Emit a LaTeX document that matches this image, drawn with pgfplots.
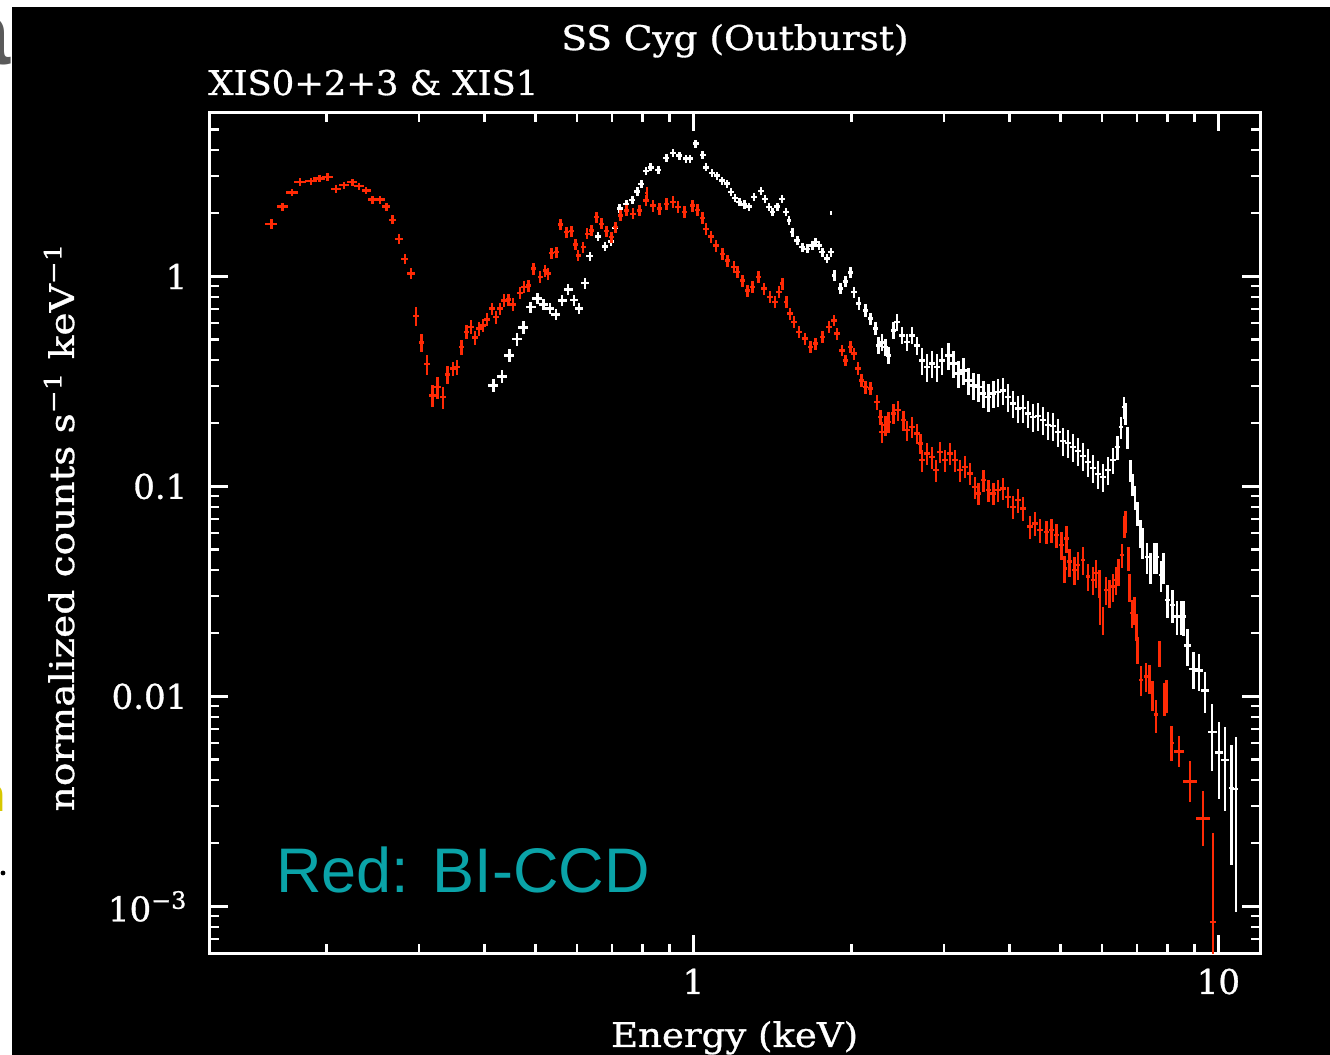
\documentclass[border=0pt]{standalone}
\usepackage{pgfplots}
\usepackage{pgfplotstable}
\pgfplotsset{compat=1.18}
\usepackage{graphicx}
\usepackage{fontspec}
\setmainfont{DejaVu Serif}
\newfontfamily\pgfnt{DejaVu Serif}[FakeBold=0.9]
\setsansfont{Liberation Sans}
\definecolor{bired}{RGB}{255,42,5}
\definecolor{tealtxt}{RGB}{10,163,168}
\newcommand{\pf}{\pgfnt\fontsize{17}{20}\selectfont}

% XIS1 (BI-CCD): E  counts  rel.xerr  rel.yerr
\pgfplotstableread{
0.157 1.78 0.026 0.05
0.165 2.15 0.026 0.045
0.172 2.51 0.026 0.04
0.178 2.82 0.026 0.04
0.187 2.84 0.026 0.04
0.194 2.92 0.026 0.04
0.201 2.98 0.026 0.04
0.2087 2.61 0.022 0.04
0.216 2.72 0.022 0.04
0.224 2.81 0.022 0.04
0.2307 2.69 0.02 0.04
0.238 2.56 0.02 0.04
0.2445 2.32 0.02 0.045
0.253 2.32 0.02 0.045
0.260 2.15 0.018 0.045
0.2673 1.86 0.016 0.05
0.2748 1.51 0.016 0.05
0.282 1.21 0.016 0.055
0.2897 1.03 0.016 0.06
0.2965 0.647 0.012 0.1
0.3034 0.484 0.012 0.1
0.311 0.382 0.012 0.11
0.3186 0.2717 0.014 0.12
0.3253 0.2975 0.014 0.12
0.3335 0.2667 0.012 0.12
0.340 0.342 0.012 0.1
0.3483 0.364 0.012 0.08
0.3545 0.370 0.012 0.08
0.3613 0.461 0.012 0.08
0.3693 0.5435 0.012 0.075
0.377 0.574 0.012 0.075
0.384 0.511 0.012 0.075
0.3908 0.564 0.012 0.075
0.3978 0.585 0.012 0.075
0.4043 0.6245 0.012 0.075
0.413 0.702 0.012 0.07
0.421 0.640 0.012 0.07
0.4284 0.702 0.012 0.07
0.436 0.769 0.012 0.07
0.4443 0.775 0.012 0.07
0.4529 0.736 0.012 0.07
0.4675 0.833 0.012 0.065
0.4758 0.889 0.012 0.065
0.4849 0.906 0.012 0.065
0.4955 1.088 0.012 0.065
0.5103 0.992 0.011 0.065
0.5216 1.068 0.011 0.065
0.529 1.03 0.011 0.065
0.537 1.29 0.011 0.06
0.5487 1.305 0.011 0.06
0.5585 1.767 0.011 0.06
0.5734 1.624 0.011 0.06
0.586 1.643 0.011 0.06
0.5963 1.42 0.011 0.06
0.6033 1.259 0.011 0.06
0.6166 1.378 0.011 0.06
0.6275 1.596 0.011 0.06
0.6395 1.654 0.011 0.06
0.6535 1.914 0.011 0.06
0.668 1.781 0.011 0.06
0.6826 1.643 0.011 0.06
0.698 1.538 0.011 0.06
0.711 1.716 0.011 0.06
0.726 1.95 0.012 0.06
0.7452 2.06 0.012 0.06
0.767 1.987 0.012 0.06
0.79 2.06 0.012 0.06
0.813 2.298 0.012 0.06
0.815 2.49 0.006 0.065
0.837 2.176 0.012 0.065
0.862 2.10 0.012 0.065
0.888 2.217 0.012 0.065
0.9135 2.256 0.012 0.065
0.934 2.136 0.012 0.065
0.961 2.022 0.012 0.065
0.997 2.176 0.012 0.065
1.019 2.075 0.012 0.065
1.041 1.901 0.012 0.065
1.057 1.686 0.012 0.065
1.08 1.55 0.012 0.065
1.104 1.404 0.012 0.065
1.137 1.282 0.012 0.065
1.162 1.192 0.012 0.065
1.196 1.107 0.012 0.065
1.2137 1.048 0.012 0.065
1.2406 0.957 0.012 0.065
1.268 0.858 0.012 0.065
1.296 0.889 0.012 0.065
1.33 0.992 0.012 0.065
1.3635 0.874 0.012 0.065
1.398 0.797 0.012 0.065
1.431 0.755 0.012 0.065
1.456 0.842 0.012 0.065
1.477 0.923 0.009 0.065
1.503 0.755 0.009 0.065
1.526 0.665 0.012 0.065
1.555 0.606 0.012 0.065
1.589 0.5435 0.012 0.065
1.631 0.5056 0.012 0.065
1.672 0.461 0.012 0.065
1.709 0.4786 0.012 0.065
1.76 0.5145 0.012 0.065
1.811 0.574 0.012 0.065
1.852 0.6177 0.012 0.065
1.878 0.534 0.012 0.065
1.92 0.4446 0.012 0.065
1.949 0.3987 0.012 0.065
1.992 0.461 0.012 0.065
2.021 0.429 0.012 0.065
2.059 0.364 0.012 0.07
2.09 0.32 0.012 0.07
2.127 0.2976 0.012 0.07
2.174 0.2924 0.012 0.07
2.237 0.2525 0.012 0.08
2.271 0.2143 0.012 0.08
2.287 0.1818 0.012 0.11
2.321 0.1956 0.012 0.11
2.355 0.2028 0.012 0.11
2.407 0.2224 0.012 0.11
2.453 0.2306 0.012 0.11
2.514 0.2066 0.012 0.11
2.551 0.1852 0.012 0.11
2.607 0.1920 0.012 0.11
2.665 0.1786 0.012 0.11
2.705 0.1601 0.012 0.11
2.724 0.1334 0.012 0.12
2.784 0.1435 0.012 0.12
2.846 0.1382 0.012 0.12
2.896 0.1195 0.012 0.12
2.951 0.1461 0.012 0.12
3.016 0.1334 0.012 0.12
3.083 0.1435 0.012 0.12
3.151 0.1334 0.012 0.12
3.221 0.1195 0.012 0.12
3.292 0.124 0.012 0.12
3.365 0.1153 0.012 0.12
3.439 0.0995 0.012 0.12
3.489 0.0926 0.012 0.12
3.566 0.1072 0.012 0.12
3.645 0.096 0.012 0.12
3.725 0.0926 0.012 0.12
3.807 0.096 0.012 0.12
3.892 0.0978 0.012 0.12
3.978 0.0892 0.012 0.12
4.066 0.080 0.012 0.13
4.155 0.0861 0.012 0.13
4.247 0.0786 0.012 0.13
4.373 0.0643 0.012 0.13
4.470 0.0667 0.012 0.13
4.569 0.0620 0.012 0.13
4.702 0.0608 0.012 0.13
4.806 0.0620 0.012 0.13
4.912 0.0587 0.012 0.13
5.021 0.0526 0.01 0.15
5.095 0.0407 0.008 0.15
5.131 0.0566 0.01 0.15
5.208 0.0438 0.01 0.15
5.323 0.040 0.01 0.15
5.400 0.0423 0.01 0.15
5.520 0.0446 0.01 0.15
5.641 0.0372 0.01 0.15
5.766 0.0358 0.01 0.15
5.850 0.0386 0.01 0.15
5.937 0.0346 0.008 0.15
5.95 0.0258 0.005 0.15
6.024 0.0231 0.005 0.15
6.112 0.0321 0.008 0.15
6.203 0.031 0.008 0.15
6.294 0.0333 0.008 0.15
6.385 0.0358 0.008 0.15
6.453 0.0393 0.008 0.15
6.546 0.0471 0.008 0.13
6.625 0.0643 0.006 0.12
6.653 0.0679 0.006 0.12
6.741 0.0455 0.005 0.13
6.770 0.0333 0.005 0.15
6.838 0.0249 0.007 0.15
6.918 0.0258 0.007 0.15
6.98 0.0215 0.007 0.15
7.019 0.0167 0.007 0.15
7.121 0.012 0.007 0.16
7.278 0.01244 0.008 0.16
7.387 0.01222 0.007 0.16
7.495 0.01018 0.007 0.16
7.603 0.00818 0.007 0.18
7.718 0.01606 0.005 0.14
7.888 0.00982 0.008 0.18
7.966 0.01018 0.008 0.18
}\redA

% XIS1 high-energy bins: E counts rel.xerr rel.yerr+ rel.yerr-
\pgfplotstableread{
8.142 0.0060 0.009 0.2 0.18
8.421 0.00547 0.022 0.18 0.16
8.823 0.00394 0.03 0.25 0.2
9.354 0.00262 0.032 0.35 0.26
9.755 0.000841 0.013 1.65 0.99
}\redB

% XIS0+2+3 (FI-CCD)
\pgfplotstableread{
0.416 0.303 0.022 0.07
0.4315 0.3334 0.022 0.07
0.4462 0.421 0.022 0.07
0.4608 0.5028 0.022 0.07
0.4744 0.5721 0.022 0.07
0.4899 0.7145 0.022 0.06
0.5043 0.7834 0.022 0.06
0.518 0.736 0.02 0.06
0.533 0.702 0.02 0.06
0.547 0.6596 0.02 0.06
0.5625 0.766 0.02 0.06
0.5775 0.8645 0.02 0.06
0.5921 0.772 0.018 0.06
0.6059 0.702 0.018 0.06
0.6211 0.929 0.018 0.06
0.635 1.248 0.016 0.05
0.658 1.55 0.013 0.045
0.6787 1.389 0.013 0.045
0.6967 1.467 0.013 0.045
0.7096 1.704 0.013 0.045
0.7239 2.11 0.013 0.045
0.7452 2.207 0.013 0.045
0.765 2.306 0.013 0.045
0.782 2.542 0.013 0.045
0.796 2.76 0.013 0.045
0.812 3.181 0.013 0.045
0.8287 3.31 0.013 0.045
0.8574 3.216 0.013 0.045
0.888 3.668 0.013 0.045
0.9135 3.879 0.013 0.045
0.9406 3.762 0.013 0.045
0.9686 3.64 0.013 0.045
0.9856 3.64 0.013 0.045
1.0101 4.29 0.013 0.045
1.041 3.782 0.013 0.045
1.057 3.31 0.013 0.045
1.084 3.116 0.013 0.045
1.108 3.022 0.013 0.045
1.133 2.861 0.013 0.045
1.158 2.768 0.013 0.045
1.179 2.517 0.013 0.045
1.199 2.362 0.013 0.045
1.2226 2.256 0.013 0.045
1.25 2.2 0.013 0.045
1.277 2.152 0.013 0.045
1.305 2.383 0.013 0.045
1.345 2.545 0.013 0.045
1.3694 2.342 0.013 0.045
1.394 2.136 0.013 0.045
1.4147 2.022 0.013 0.045
1.4454 2.152 0.013 0.045
1.4733 2.342 0.013 0.045
1.4993 2.022 0.013 0.045
1.521 1.846 0.009 0.05
1.5432 1.624 0.009 0.05
1.5774 1.483 0.013 0.05
1.6124 1.378 0.013 0.05
1.648 1.354 0.013 0.05
1.6846 1.404 0.013 0.05
1.709 1.456 0.013 0.05
1.734 1.404 0.013 0.05
1.76 1.305 0.013 0.05
1.798 1.214 0.013 0.05
1.830 1.305 0.013 0.05
1.830 2.0 0.003 0.02
1.856 1.011 0.009 0.06
1.906 0.877 0.012 0.06
1.949 0.947 0.012 0.06
1.992 1.045 0.012 0.06
2.021 0.842 0.012 0.06
2.065 0.742 0.012 0.07
2.127 0.689 0.012 0.07
2.174 0.629 0.012 0.07
2.222 0.564 0.012 0.07
2.254 0.4696 0.012 0.09
2.287 0.4855 0.012 0.09
2.321 0.461 0.012 0.09
2.355 0.421 0.012 0.09
2.407 0.5536 0.012 0.09
2.442 0.6064 0.012 0.09
2.496 0.5241 0.012 0.09
2.551 0.487 0.012 0.09
2.607 0.5241 0.012 0.09
2.665 0.4696 0.012 0.1
2.724 0.3987 0.014 0.15
2.784 0.370 0.014 0.15
2.846 0.3845 0.014 0.15
2.909 0.370 0.014 0.15
2.973 0.3987 0.014 0.15
3.061 0.421 0.014 0.15
3.129 0.3845 0.014 0.15
3.197 0.3445 0.014 0.15
3.268 0.357 0.014 0.15
3.34 0.32 0.014 0.15
3.414 0.303 0.014 0.15
3.489 0.2976 0.014 0.15
3.566 0.2768 0.014 0.15
3.645 0.2668 0.014 0.15
3.725 0.2768 0.014 0.15
3.807 0.2817 0.014 0.15
3.892 0.2870 0.014 0.15
3.978 0.2668 0.014 0.15
4.066 0.248 0.014 0.15
4.155 0.2349 0.014 0.15
4.247 0.2357 0.014 0.15
4.341 0.2224 0.014 0.15
4.436 0.2143 0.014 0.15
4.534 0.2160 0.014 0.15
4.634 0.2066 0.014 0.15
4.736 0.1956 0.014 0.15
4.842 0.1935 0.014 0.15
4.949 0.1812 0.014 0.15
5.058 0.1642 0.014 0.15
5.17 0.1607 0.014 0.15
5.284 0.1538 0.014 0.15
5.4 0.1472 0.014 0.15
5.52 0.1393 0.014 0.15
5.641 0.1305 0.014 0.15
5.766 0.1222 0.014 0.15
5.893 0.1144 0.014 0.15
6.024 0.1107 0.014 0.15
6.156 0.1195 0.014 0.15
6.294 0.1334 0.014 0.14
6.418 0.1538 0.011 0.13
6.525 0.1914 0.007 0.12
6.602 0.2383 0.006 0.12
6.651 0.2232 0.006 0.12
6.718 0.1715 0.006 0.12
6.798 0.1195 0.006 0.12
6.867 0.1025 0.006 0.12
6.937 0.0889 0.006 0.13
7.019 0.0746 0.006 0.13
7.102 0.06 0.006 0.15
7.174 0.0543 0.006 0.17
7.311 0.0461 0.007 0.17
7.42 0.0413 0.007 0.17
7.551 0.0461 0.007 0.17
7.637 0.0461 0.007 0.17
7.772 0.0379 0.007 0.17
7.863 0.0413 0.007 0.17
8.002 0.0288 0.01 0.18
8.179 0.0273 0.01 0.18
8.334 0.024 0.012 0.18
8.481 0.024 0.01 0.18
8.581 0.024 0.01 0.19
8.733 0.01746 0.016 0.2
8.966 0.01353 0.018 0.2
9.191 0.01328 0.018 0.2
9.436 0.01067 0.018 0.22
}\whiteA

\pgfplotstableread{
9.730 0.00676 0.02 0.36 0.35
10.03 0.00541 0.018 0.39 0.40
10.30 0.00499 0.016 0.43 0.43
10.60 0.00366 0.012 0.6 0.57
10.79 0.00362 0.012 0.77 0.74
}\whiteB

\begin{document}
\begin{tikzpicture}
\useasboundingbox (0,0) rectangle (665pt,527.5pt);
\fill[white] (0,0) rectangle (665pt,527.5pt);
\fill[black] (6pt,0) rectangle (665pt,524pt);
\begin{scope}
\clip (0,0) rectangle (6pt,527.5pt);
\node[anchor=base east, inner sep=0, text={rgb,255:red,90;green,90;blue,90}, font=\sffamily\bfseries\fontsize{45}{45}\selectfont] at (5.5pt,495pt) {a};
\node[anchor=base east, inner sep=0, text={rgb,255:red,215;green,200;blue,0}, font=\sffamily\bfseries\fontsize{24}{24}\selectfont] at (3pt,121.5pt) {n};
\fill[black] (1.5pt,91pt) circle (1.2pt);
\end{scope}
\begin{axis}[
  at={(105pt,51pt)}, anchor=south west,
  scale only axis, width=525pt, height=420pt,
  xmode=log, ymode=log,
  xmin=0.12, xmax=12, ymin=6e-4, ymax=6,
  axis line style={white, line width=1.5pt},
  tick align=inside,
  every tick/.style={white, line width=1.2pt},
  major tick length=9pt, minor tick length=4.5pt,
  xtick={1,10}, xticklabels={1,10},
  minor xtick={0.2,0.3,0.4,0.5,0.6,0.7,0.8,0.9,2,3,4,5,6,7,8,9},
  ytick={0.001,0.01,0.1,1},
  yticklabels={10\textsuperscript{−3},0.01,0.1,1},
  minor ytick={0.0007,0.0008,0.0009,0.002,0.003,0.004,0.005,0.006,0.007,0.008,0.009,0.02,0.03,0.04,0.05,0.06,0.07,0.08,0.09,0.2,0.3,0.4,0.5,0.6,0.7,0.8,0.9,2,3,4,5},
  ticklabel style={font=\pf, text=white},
  yticklabel style={anchor=east, xshift=-7.8pt},
  xticklabel style={anchor=north, yshift=-4.3pt},
  clip=true,
]
\addplot[draw=none, mark=none, error bars/.cd, x dir=both, y dir=both,
  x explicit relative, y explicit relative, error mark=none,
  error bar style={draw=white, line width=1.25pt}]
  table[x index=0, y index=1, x error index=2, y error index=3] {\whiteA};
\addplot[draw=none, mark=none, error bars/.cd, x dir=both, y dir=both,
  x explicit relative, y explicit relative, error mark=none,
  error bar style={draw=white, line width=1.25pt}]
  table[x index=0, y index=1, x error index=2, y error plus index=3, y error minus index=4] {\whiteB};
\addplot[draw=none, mark=none, error bars/.cd, x dir=both, y dir=both,
  x explicit relative, y explicit relative, error mark=none,
  error bar style={draw=bired, line width=1.25pt}]
  table[x index=0, y index=1, x error index=2, y error index=3] {\redA};
\addplot[draw=none, mark=none, error bars/.cd, x dir=both, y dir=both,
  x explicit relative, y explicit relative, error mark=none,
  error bar style={draw=bired, line width=1.25pt}]
  table[x index=0, y index=1, x error index=2, y error plus index=3, y error minus index=4] {\redB};
\end{axis}
\node[white, anchor=base, font=\pf] at (367.5pt,502.5pt) {\scalebox{1.1}[1]{SS Cyg (Outburst)}};
\node[white, anchor=base west, inner sep=0, font=\pf] at (104pt,480pt) {\scalebox{1.04}[1]{XIS0+2+3 \& XIS1}};
\node[white, rotate=90, anchor=base, font=\pf] at (37pt,264pt) {\scalebox{1.15}[1]{normalized counts s\textsuperscript{−1} keV\textsuperscript{−1}}};
\node[white, anchor=base, font=\pf] at (367.3pt,4pt) {\scalebox{1.09}[1]{Energy (keV)}};
\node[text=tealtxt, anchor=base west, inner sep=0, font=\sffamily\fontsize{31.5}{36}\selectfont] at (138pt,81pt) {Red: BI-CCD};
\end{tikzpicture}
\end{document}
